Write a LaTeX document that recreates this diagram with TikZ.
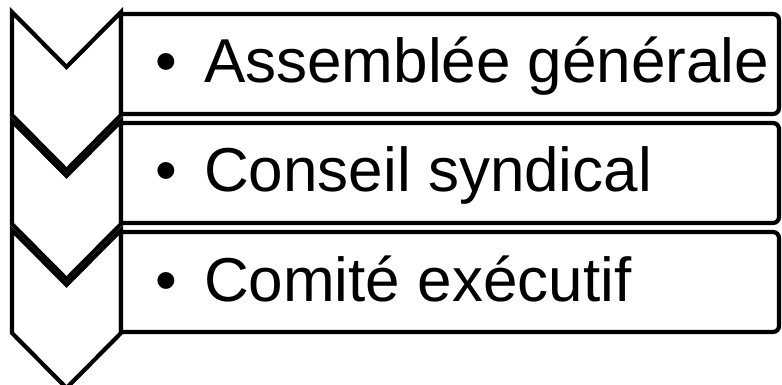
\documentclass[tikz,border=0pt]{standalone}
\usepackage{fontspec}
\setmainfont{Liberation Sans}
\begin{document}
\begin{tikzpicture}[x=1pt,y=1pt,
  shapeline/.style={draw=black,fill=white,line width=4.2pt,line join=miter},
  lbl/.style={inner sep=0pt,anchor=base west,font=\fontsize{62}{70}\selectfont}]
\useasboundingbox (0,0) rectangle (782,-385);
% chevrons
\foreach \T in {12,121,230}{
  \draw[shapeline] (12,-\T) -- (66.5,-\T-55) -- (121,-\T) -- (121,-\T-103)
     -- (66.5,-\T-158) -- (12,-\T-103) -- cycle;
}
% boxes
\foreach \T in {14,123,232}{
  \draw[shapeline] (121,-\T) -- (773,-\T) arc[start angle=90,end angle=0,radius=6]
     -- (779,-\T-94) arc[start angle=0,end angle=-90,radius=6] -- (121,-\T-100) -- cycle;
}
\node[lbl] (t1) at (155.2,-83) {•\hspace{27pt}Assemblée générale};
\node[lbl] (t2) at (155.2,-192) {•\hspace{27pt}Conseil syndical};
\node[lbl] (t3) at (155.2,-301) {•\hspace{27pt}Comité exécutif};
\end{tikzpicture}
\end{document}
